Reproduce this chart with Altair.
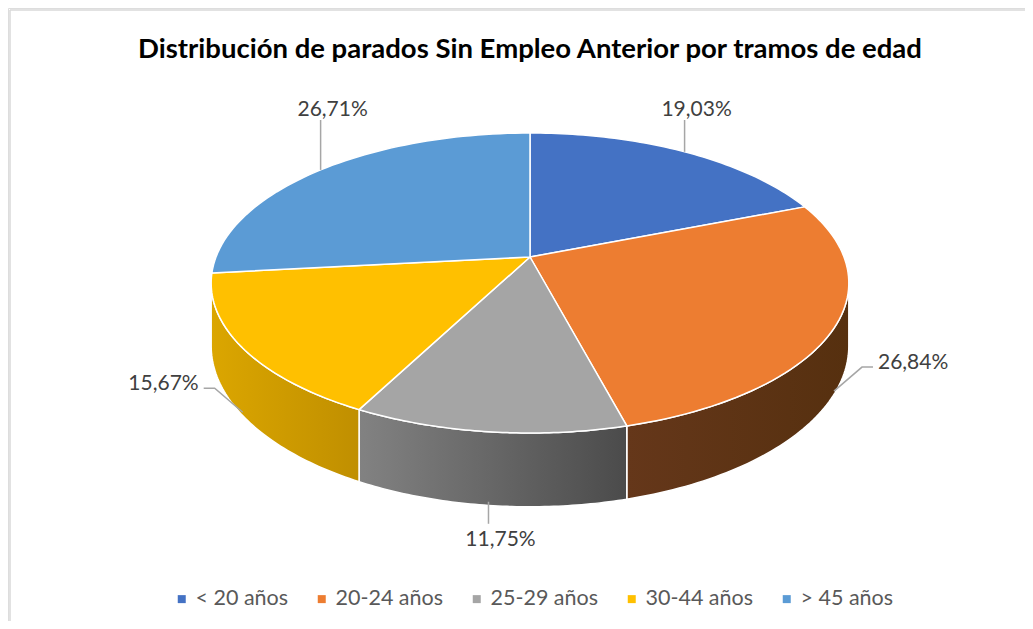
import altair as alt
import pandas as pd

# ---- data ----
categories = ["< 20 años", "20-24 años", "25-29 años", "30-44 años", "> 45 años"]
values = [19.03, 26.84, 11.75, 15.67, 26.71]
title_text = "Distribución de parados Sin Empleo Anterior por tramos de edad"

# ---- styles ----
top_colors = ["#4472C4", "#ED7D31", "#A5A5A5", "#FFC000", "#5B9BD5"]
side_left = ["#2F528F", "#65371A", "#828282", "#DBA600", "#41719C"]
side_right = ["#27457A", "#56300F", "#4B4B4B", "#C08F00", "#356CA0"]
FONT = "Lato"

# ---- layout / 3D projection parameters ----
W, H = 1017, 613
CX, CY = 522, 249          # apex of the pie
A, B, K, T = 314, 145.5, 0.1733, 61   # x semi-axis, y semi-axis, perspective, thickness
N = 60
TOPY = CY - B / (1 + K)
BOTY = CY + (B + T) / (1 - K)

df = pd.DataFrame({"cat": categories, "value": values, "idx": list(range(len(categories)))})
one = pd.DataFrame({"t": [title_text]})

X = alt.X("px:Q", scale=alt.Scale(domain=[0, W], nice=False, zero=False), axis=None)
Y = alt.Y("py:Q", scale=alt.Scale(domain=[0, H], nice=False, zero=False, reverse=True), axis=None)


def base():
    return (
        alt.Chart(df)
        .transform_joinaggregate(total="sum(value)")
        .transform_window(cum="sum(value)", sort=[alt.SortField("idx")], frame=[None, 0])
        .transform_calculate(th0="2*PI*(datum.cum - datum.value)/datum.total")
        .transform_calculate(th1="2*PI*datum.cum/datum.total")
    )


# legend carrier (hidden under the pie)
legend_layer = alt.Chart(df).mark_square(size=1).encode(
    x=alt.value(CX),
    y=alt.value(CY),
    color=alt.Color(
        "cat:N",
        scale=alt.Scale(domain=categories, range=top_colors),
        legend=alt.Legend(
            title=None,
            orient="none",
            legendX=163,
            legendY=580,
            direction="horizontal",
            symbolType="square",
            symbolSize=64,
            symbolOpacity=1,
            symbolStrokeWidth=0,
            labelFont=FONT,
            labelFontSize=21.5,
            labelColor="#595959",
            labelOffset=3,
            columnPadding=22,
        ),
    ),
)

# side walls
side_layers = []
for i, cat in enumerate(categories):
    grad = alt.Gradient(
        gradient="linear",
        stops=[alt.GradientStop(color=side_left[i], offset=0), alt.GradientStop(color=side_right[i], offset=1)],
        x1=0, x2=1, y1=0, y2=0,
    )
    side = (
        base()
        .transform_filter(alt.datum.cat == cat)
        .transform_calculate(s=f"max(datum.th0, acos(-{K}))")
        .transform_calculate(e=f"min(datum.th1, 2*PI - acos(-{K}))")
        .transform_filter("datum.e > datum.s")
        .transform_calculate(seq=f"sequence(0, {2 * N + 3})")
        .transform_flatten(["seq"], as_=["j"])
        .transform_calculate(
            t=f"datum.j <= {N} ? datum.j/{N} : (datum.j <= {2 * N + 1} ? ({2 * N + 1} - datum.j)/{N} : 0)"
        )
        .transform_calculate(h=f"(datum.j > {N} && datum.j <= {2 * N + 1}) ? 1 : 0")
        .transform_calculate(th="datum.s + (datum.e - datum.s)*datum.t")
        .transform_calculate(den=f"1 + {K}*cos(datum.th)")
        .transform_calculate(px=f"{CX} + {A}*sin(datum.th)/datum.den")
        .transform_calculate(py=f"{CY} - {B}*cos(datum.th)/datum.den + datum.h*{T}/datum.den")
        .mark_line(fill=grad, stroke="white", strokeWidth=1.5, strokeJoin="round")
        .encode(x=X, y=Y, order="j:Q")
    )
    side_layers.append(side)

# top faces
faces = (
    base()
    .transform_calculate(seq=f"sequence(0, {N + 3})")
    .transform_flatten(["seq"], as_=["j"])
    .transform_calculate(apex=f"datum.j == 0 || datum.j == {N + 2}")
    .transform_calculate(th=f"datum.th0 + (datum.th1 - datum.th0)*(datum.j - 1)/{N}")
    .transform_calculate(den=f"1 + {K}*cos(datum.th)")
    .transform_calculate(px=f"datum.apex ? {CX} : {CX} + {A}*sin(datum.th)/datum.den")
    .transform_calculate(py=f"datum.apex ? {CY} : {CY} - {B}*cos(datum.th)/datum.den")
    .mark_line(stroke="white", strokeWidth=1.5, strokeJoin="round")
    .encode(
        x=X,
        y=Y,
        order="j:Q",
        fill=alt.Fill("cat:N", scale=alt.Scale(domain=categories, range=top_colors), legend=None),
    )
)


# label geometry
def label_base():
    return (
        base()
        .transform_calculate(tm="(datum.th0 + datum.th1)/2")
        .transform_calculate(sn="sin(datum.tm)")
        .transform_calculate(cs="cos(datum.tm)")
        .transform_calculate(
            kind="abs(datum.sn) > 0.8 ? (datum.sn > 0 ? 'right' : 'left') : (datum.cs > 0 ? 'back' : 'front')"
        )
        .transform_calculate(h="datum.cs > 0 ? 0 : 0.95")
        .transform_calculate(den=f"1 + {K}*datum.cs")
        .transform_calculate(ex=f"{CX} + {A}*datum.sn/datum.den")
        .transform_calculate(ey=f"{CY} - {B}*datum.cs/datum.den + datum.h*{T}/datum.den")
        .transform_calculate(
            elx="datum.kind == 'right' ? datum.ex + 28 : (datum.kind == 'left' ? datum.ex - 28 : datum.ex)"
        )
        .transform_calculate(
            ely=f"(datum.kind == 'right' || datum.kind == 'left') ? datum.ey - 24 : (datum.kind == 'back' ? {TOPY - 13} : {BOTY + 17})"
        )
        .transform_calculate(
            lx="datum.kind == 'right' ? datum.elx + 11 : (datum.kind == 'left' ? datum.elx - 11 : datum.ex)"
        )
        .transform_calculate(ly="datum.ely")
        .transform_calculate(
            tx="datum.kind == 'right' ? datum.lx + 5 : (datum.kind == 'left' ? datum.lx - 5 : datum.ex + 12)"
        )
        .transform_calculate(
            ty="(datum.kind == 'right' || datum.kind == 'left') ? datum.ly - 4 : (datum.kind == 'back' ? datum.ly - 10 : datum.ly + 16)"
        )
        .transform_calculate(label="replace(format(datum.value, '.2f'), '.', ',') + '%'")
    )


leaders = (
    label_base()
    .transform_calculate(seq="sequence(0, 3)")
    .transform_flatten(["seq"], as_=["j"])
    .transform_calculate(px="datum.j == 0 ? datum.ex : (datum.j == 1 ? datum.elx : datum.lx)")
    .transform_calculate(py="datum.j == 0 ? datum.ey : (datum.j == 1 ? datum.ely : datum.ly)")
    .mark_line(color="#A6A6A6", strokeWidth=1.5)
    .encode(x=X, y=Y, order="j:Q", detail="cat:N")
)

text_layers = []
for kinds, align in [(["back", "front"], "center"), (["right"], "left"), (["left"], "right")]:
    cond = " || ".join(f"datum.kind == '{k}'" for k in kinds)
    text_layers.append(
        label_base()
        .transform_filter(cond)
        .transform_calculate(px="datum.tx")
        .transform_calculate(py="datum.ty")
        .mark_text(font=FONT, fontSize=21, color="#404040", align=align, baseline="middle")
        .encode(x=X, y=Y, text="label:N")
    )

title = alt.Chart(one).mark_text(
    font=FONT, fontSize=27.5, fontWeight="bold", color="#000000", align="center", baseline="middle"
).encode(x=alt.value(CX), y=alt.value(42), text="t:N")

border_top = alt.Chart(one).mark_rule(color="#D9D9D9", strokeWidth=1.5).encode(
    x=alt.value(2), x2=alt.value(W + 10), y=alt.value(2)
)
border_left = alt.Chart(one).mark_rule(color="#D9D9D9", strokeWidth=1.5).encode(
    x=alt.value(2), y=alt.value(2), y2=alt.value(H + 10)
)

chart = (
    alt.layer(legend_layer, *side_layers, faces, leaders, *text_layers, title, border_top, border_left)
    .resolve_scale(fill="independent", color="independent")
    .properties(width=W, height=H, padding=0, autosize=alt.AutoSizeParams(type="none"))
    .configure_view(strokeWidth=0)
    .configure(background="white")
)

chart.save("out.html", embed_options={"renderer": "svg", "actions": False})
